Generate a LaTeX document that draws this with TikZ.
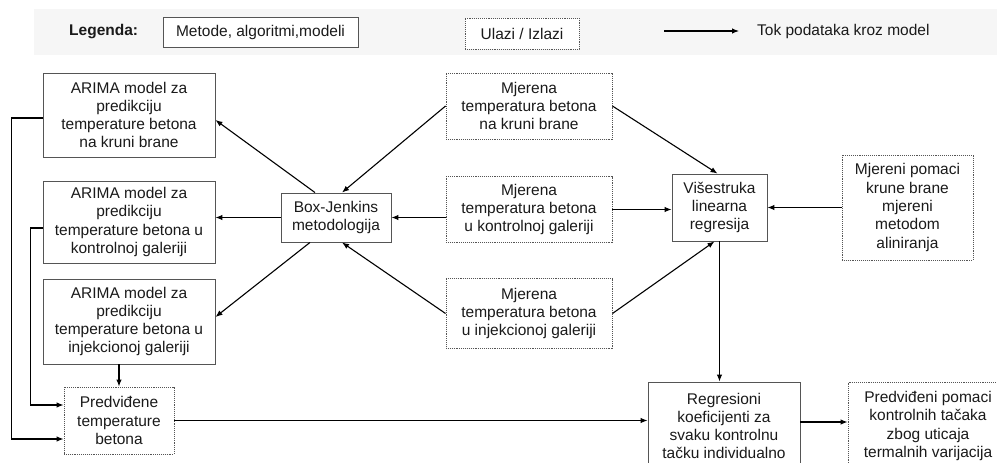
\documentclass[tikz,border=0pt]{standalone}
\usepackage{fontspec}
\setmainfont{Liberation Sans}
\usetikzlibrary{arrows.meta}
\definecolor{boxline}{HTML}{555555}
\definecolor{legbg}{HTML}{F6F6F6}
\definecolor{txt}{HTML}{1A1A1A}

\begin{document}
\begin{tikzpicture}[x=1pt,y=-1pt,
    metoda/.style={draw=boxline,line width=0.9pt,fill=white,align=center,inner sep=0pt,text=txt,font=\fontsize{15.5}{18.3}\selectfont},
    ulaz/.style={metoda,densely dotted},
    legtekst/.style={anchor=west,inner sep=0pt,text=txt,font=\fontsize{15.5}{18.3}\selectfont},
    tok/.style={line width=1.1pt,-{Latex[length=7pt,width=5.5pt]}}]
            \clip (0,0) rectangle (997,463);
            \fill[white] (0,0) rectangle (997,463);
            \fill[legbg] (34,9) rectangle (997,55);
            \node[legtekst,font=\fontsize{15.5}{18.3}\selectfont\bfseries] (leg) at (69,31.5) {Legenda:};
            \node[metoda,minimum width=195pt,minimum height=30pt] (legmet) at (260.5,32) {Metode, algoritmi,modeli};
            \node[ulaz,minimum width=114pt,minimum height=31pt] (legul) at (522,33.5) {Ulazi / Izlazi};
            \node[legtekst] (legtok) at (757,31) {Tok podataka kroz model};
            \coordinate (legs) at (664,31);
            \draw[tok] (legs) -- ([xshift=-18pt]legtok.west);
            \node[metoda,minimum width=172pt,minimum height=84pt] (arima1) at (129,115) {ARIMA model za\\predikciju\\temperature betona\\na kruni brane};
            \node[metoda,minimum width=172pt,minimum height=82pt] (arima2) at (129,222) {ARIMA model za\\predikciju\\temperature betona u\\kontrolnoj galeriji};
            \node[metoda,minimum width=172pt,minimum height=85pt] (arima3) at (129,321.5) {ARIMA model za\\predikciju\\temperature betona u\\injekcionoj galeriji};
            \node[ulaz,minimum width=110pt,minimum height=67pt] (predtemp) at (119,420.5) {Predviđene\\temperature\\betona};
            \node[metoda,minimum width=110pt,minimum height=49pt] (bj) at (336,217.5) {Box-Jenkins\\metodologija};
            \node[ulaz,minimum width=166pt,minimum height=66pt] (mj1) at (529,106) {Mjerena\\temperatura betona\\na kruni brane};
            \node[ulaz,minimum width=166pt,minimum height=66pt] (mj2) at (529,209.5) {Mjerena\\temperatura betona\\u kontrolnoj galeriji};
            \node[ulaz,minimum width=166pt,minimum height=70pt] (mj3) at (529,313.5) {Mjerena\\temperatura betona\\u injekcionoj galeriji};
            \node[metoda,minimum width=95pt,minimum height=67pt] (vis) at (719.5,207.5) {Višestruka\\linearna\\regresija};
            \node[ulaz,minimum width=131pt,minimum height=105pt] (pomaci) at (907.5,207.5) {Mjereni pomaci\\krune brane\\mjereni\\metodom\\aliniranja};
            \node[metoda,minimum width=152pt,minimum height=88pt] (regr) at (724,426) {Regresioni\\koeficijenti za\\svaku kontrolnu\\tačku individualno};
            \node[ulaz,minimum width=160pt,minimum height=88pt] (predpom) at (928,426) {Predviđeni pomaci\\kontrolnih tačaka\\zbog uticaja\\termalnih varijacija};
            \draw[tok] ([xshift=-21pt]bj.north) -- ([yshift=-5pt]arima1.east);
            \draw[tok] (bj.west) -- (bj.west -| arima2.east);
            \draw[tok] ([xshift=-26pt]bj.south) -- ([yshift=4.5pt]arima3.east);
            \draw[tok] (mj1.west) -- ([xshift=6pt]bj.north);
            \draw[tok] (mj2.west |- bj.east) -- (bj.east);
            \draw[tok] (mj3.west) -- ([xshift=6pt]bj.south);
            \draw[tok] (mj1.east) -- ([xshift=-2pt]vis.north);
            \draw[tok] (mj2.east) -- (mj2.east -| vis.west);
            \draw[tok] (mj3.east) -- ([xshift=-5pt]vis.south);
            \draw[tok] (pomaci.west) -- (vis.east);
            \draw[tok] (vis.south) -- (vis.south |- regr.north);
            \draw[tok] (predtemp.east) -- (predtemp.east -| regr.west);
            \draw[tok] ([yshift=4pt]regr.east) -- ([yshift=4pt]predpom.west);
            \draw[tok] (arima3.south -| predtemp.north) -- (predtemp.north);
            \draw[tok] ([yshift=-3pt]arima1.west) -- ++(-31,0) |- ([yshift=-18.5pt]predtemp.west);
            \draw[tok] ([yshift=-6pt]arima2.west) -- ++(-12,0) |- ([yshift=15.5pt]predtemp.west);
        \end{tikzpicture}
\end{document}
